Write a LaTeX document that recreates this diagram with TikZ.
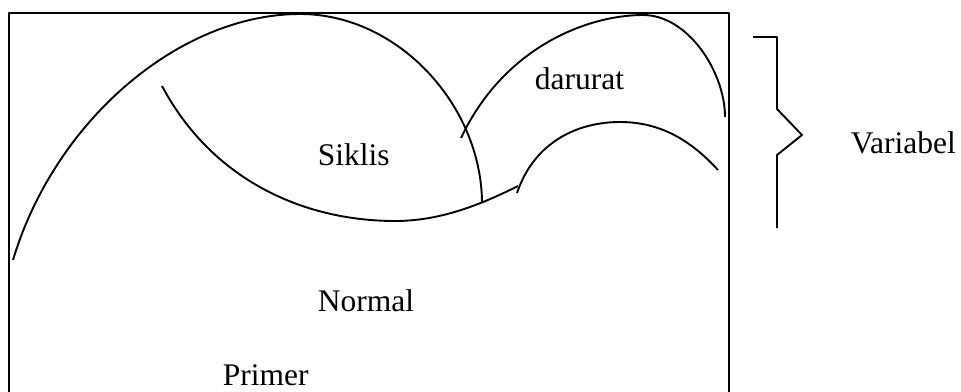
\documentclass[tikz,border=0pt]{standalone}
\usepackage{fontspec}
\setmainfont{Liberation Serif}
\begin{document}
\begin{tikzpicture}[x=1pt,y=-1pt,line width=1.9pt,line join=round,
  lbl/.style={font=\fontsize{31.5}{36}\selectfont,inner sep=0pt,anchor=base west}]
\useasboundingbox (0,0) rectangle (961,391);
% frame
\coordinate (fbl) at (9,400);
\coordinate (ftl) at (9,13);
\coordinate (ftr) at (729,13);
\coordinate (fbr) at (729,400);
\draw (fbl) -- (ftl) -- (ftr) -- (fbr);
% big arc
\coordinate (a0) at (13,260);
\coordinate (a1) at (300,14);
\coordinate (a2) at (482,202);
\draw (a0) .. controls (55,120) and (180,14) .. (a1)
           .. controls (398,14) and (481,105) .. (a2);
% Siklis arc
\coordinate (s0) at (162,86);
\coordinate (s1) at (395,221);
\coordinate (s2) at (518,186);
\draw (s0) .. controls (215,185) and (310,221) .. (s1)
           .. controls (440,221) and (480,205) .. (s2);
% darurat arc
\coordinate (d0) at (461,138);
\coordinate (d1) at (643,15);
\coordinate (d2) at (725,117);
\draw (d0) .. controls (505,45) and (590,15) .. (d1)
           .. controls (688,15) and (725,72) .. (d2);
% lower arc
\coordinate (l0) at (517,193);
\coordinate (l1) at (620,122);
\coordinate (l2) at (718,170);
\draw (l0) .. controls (535,140) and (580,122) .. (l1)
           .. controls (665,122) and (695,145) .. (l2);
% brace
\coordinate (b1) at (753,37);
\coordinate (b2) at (777,37);
\coordinate (b3) at (777,109);
\coordinate (b4) at (802,135);
\coordinate (b5) at (777,155);
\coordinate (b6) at (777,228);
\draw (b1) -- (b2) -- (b3) -- (b4) -- (b5) -- (b6);
% labels
\node[lbl] (siklis) at (317,165) {Siklis};
\node[lbl] (darurat) at (534,89) {darurat};
\node[lbl] (variabel) at (850,153) {Variabel};
\node[lbl] (normal) at (317,311) {Normal};
\node[lbl] (primer) at (222,385) {Primer};
\end{tikzpicture}
\end{document}
